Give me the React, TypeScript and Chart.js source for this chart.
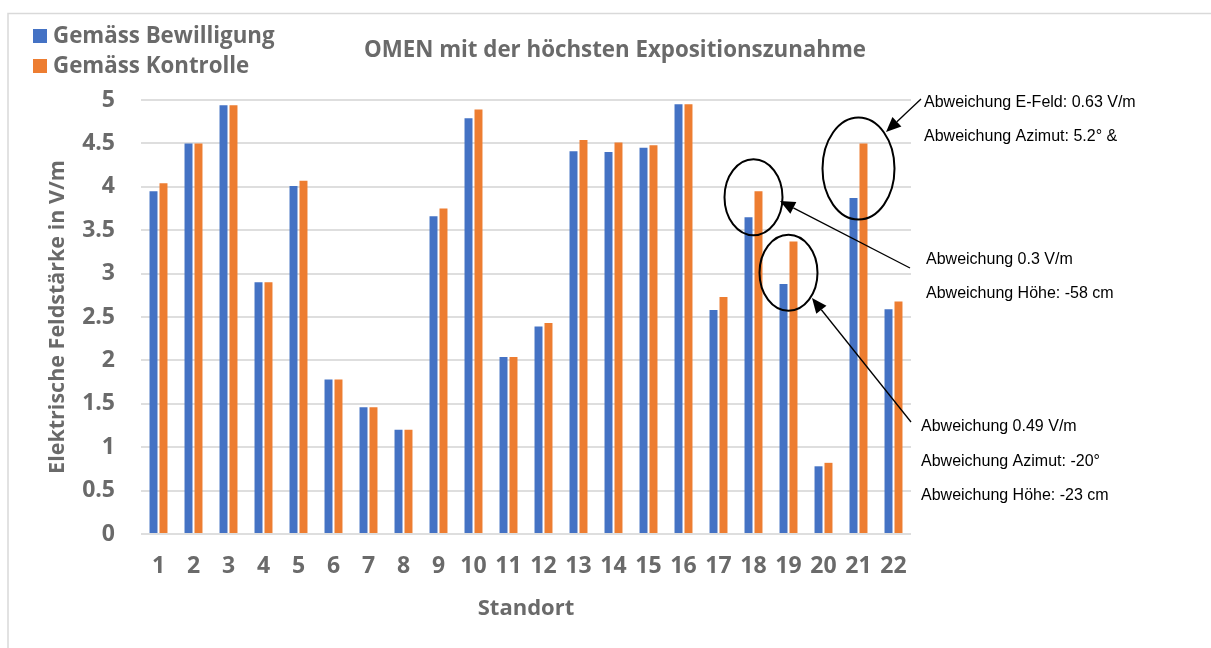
import React, { useEffect, useRef } from "react";
import { Chart, registerables } from "chart.js";

Chart.register(...registerables);

const categories = ["1","2","3","4","5","6","7","8","9","10","11","12","13","14","15","16","17","18","19","20","21","22"];
const bewilligung = [3.95,4.50,4.94,2.90,4.01,1.78,1.46,1.20,3.66,4.79,2.04,2.39,4.41,4.40,4.45,4.95,2.58,3.65,2.88,0.78,3.87,2.59];
const kontrolle = [4.04,4.50,4.94,2.90,4.07,1.78,1.46,1.20,3.75,4.89,2.04,2.43,4.54,4.51,4.48,4.95,2.73,3.95,3.37,0.82,4.50,2.68];
const yTicks = [0,0.5,1,1.5,2,2.5,3,3.5,4,4.5,5];
const seriesLabels = ["Gemäss Bewilligung", "Gemäss Kontrolle"];
const seriesColors = ["#4472C4", "#ED7D31"];
const chartTitle = "OMEN mit der höchsten Expositionszunahme";
const yTitle = "Elektrische Feldstärke in V/m";
const xTitle = "Standort";

const notesA = ["Abweichung E-Feld: 0.63 V/m", "Abweichung Azimut: 5.2° &"];
const notesB = ["Abweichung 0.3 V/m", "Abweichung Höhe: -58 cm"];
const notesC = ["Abweichung 0.49 V/m", "Abweichung Azimut: -20°", "Abweichung Höhe: -23 cm"];

const GRAY = "#6a6a6a";
const FONT = "'Open Sans', 'Noto Sans', sans-serif";

function arrow(ctx: CanvasRenderingContext2D, x1: number, y1: number, x2: number, y2: number) {
  const ang = Math.atan2(y2 - y1, x2 - x1);
  const len = 15, half = 6.5;
  const bx = x2 - len * Math.cos(ang), by = y2 - len * Math.sin(ang);
  ctx.beginPath();
  ctx.moveTo(x1, y1);
  ctx.lineTo(bx, by);
  ctx.stroke();
  ctx.beginPath();
  ctx.moveTo(x2, y2);
  ctx.lineTo(bx + half * Math.sin(ang), by - half * Math.cos(ang));
  ctx.lineTo(bx - half * Math.sin(ang), by + half * Math.cos(ang));
  ctx.closePath();
  ctx.fill();
}

const decorPlugin = {
  id: "decor",
  beforeDraw(chart: any) {
    const ctx = chart.ctx as CanvasRenderingContext2D;
    ctx.save();
    ctx.fillStyle = "#ffffff";
    ctx.fillRect(0, 0, chart.width, chart.height);
    ctx.strokeStyle = "#d9d9d9";
    ctx.lineWidth = 1.5;
    ctx.beginPath();
    ctx.moveTo(8, chart.height + 5);
    ctx.lineTo(8, 13.5);
    ctx.lineTo(chart.width + 5, 13.5);
    ctx.stroke();
    ctx.restore();
  },
  afterDraw(chart: any) {
    const ctx = chart.ctx as CanvasRenderingContext2D;
    const xs = chart.scales.x, ys = chart.scales.y;
    ctx.save();
    // legend
    ctx.font = `bold 22.3px ${FONT}`;
    ctx.textBaseline = "middle";
    ctx.textAlign = "left";
    seriesLabels.forEach((lab, i) => {
      const cy = 36 + i * 30;
      ctx.fillStyle = seriesColors[i];
      ctx.fillRect(33, cy - 7, 14, 14);
      ctx.fillStyle = GRAY;
      ctx.fillText(lab, 53, cy + 1);
    });
    // title
    ctx.font = `bold 22.3px ${FONT}`;
    ctx.textAlign = "center";
    ctx.fillText(chartTitle, 615, 51);
    // ellipses
    ctx.strokeStyle = "#000";
    ctx.fillStyle = "#000";
    ctx.lineWidth = 2;
    const ell = (cat: string, v: number, rx: number, ry: number) => {
      const cx = xs.getPixelForValue(categories.indexOf(cat));
      const cy = ys.getPixelForValue(v);
      ctx.beginPath();
      ctx.ellipse(cx, cy, rx, ry, 0, 0, Math.PI * 2);
      ctx.stroke();
    };
    ell("18", 3.88, 29, 38);
    ell("19", 3.01, 29, 38);
    ell("21", 4.21, 36, 51);
    // arrows
    ctx.lineWidth = 1.3;
    arrow(ctx, 921, 99, 886, 132);
    arrow(ctx, 910, 268, 780, 201);
    arrow(ctx, 911, 422, 812, 298);
    // notes
    ctx.font = `16px 'Liberation Sans', Arial, sans-serif`;
    ctx.textAlign = "left";
    ctx.textBaseline = "middle";
    notesA.forEach((t, i) => ctx.fillText(t, 924, 103 + i * 34));
    notesB.forEach((t, i) => ctx.fillText(t, 926, 260 + i * 34));
    notesC.forEach((t, i) => ctx.fillText(t, 921, 427 + i * 34.5));
    ctx.restore();
  },
};

export default function App() {
  const ref = useRef<HTMLCanvasElement | null>(null);
  useEffect(() => {
    document.body.style.margin = "0";
    const canvas = ref.current!;
    const chart = new Chart(canvas, {
      type: "bar",
      data: {
        labels: categories,
        datasets: [
          { label: seriesLabels[0], data: bewilligung, backgroundColor: seriesColors[0], barPercentage: 0.8, categoryPercentage: 0.57 },
          { label: seriesLabels[1], data: kontrolle, backgroundColor: seriesColors[1], barPercentage: 0.8, categoryPercentage: 0.57 },
        ],
      },
      options: {
        responsive: false,
        animation: false,
        layout: { padding: { left: 0, right: 300, top: 100, bottom: 0 } },
        plugins: { legend: { display: false }, title: { display: false }, tooltip: { enabled: false } },
        scales: {
          x: {
            grid: { display: false, drawTicks: false },
            border: { display: false },
            ticks: { color: GRAY, font: { family: FONT, size: 23, weight: "bold" }, padding: 19, maxRotation: 0, autoSkip: false },
            title: { display: true, text: xTitle, color: GRAY, font: { family: FONT, size: 22, weight: "bold" }, padding: { top: 0, bottom: 26 } },
            afterFit: (s: any) => { s.height = 114; },
          },
          y: {
            min: 0,
            max: 5,
            afterBuildTicks: (s: any) => { s.ticks = yTicks.map((v) => ({ value: v })); },
            grid: { color: "#dedede", lineWidth: 2, drawTicks: false },
            border: { display: false },
            ticks: { color: GRAY, font: { family: FONT, size: 23, weight: "bold" }, padding: 26, callback: (v: any) => String(v) },
            title: { display: true, text: yTitle, color: GRAY, font: { family: FONT, size: 21.5, weight: "bold" }, padding: { top: 45, bottom: 0 } },
            afterFit: (s: any) => { s.width = 141; },
          },
        },
      },
      plugins: [decorPlugin],
    } as any);
    return () => chart.destroy();
  }, []);
  return <canvas ref={ref} width={1211} height={648} style={{ display: "block", width: 1211, height: 648 }} />;
}
